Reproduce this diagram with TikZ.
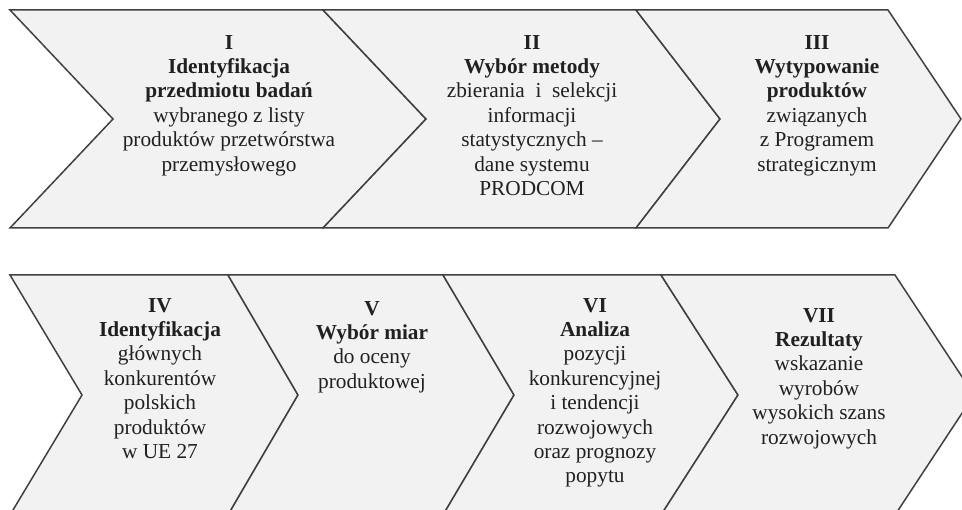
\documentclass[tikz,border=0pt]{standalone}
\usepackage{fontspec}
\setmainfont{Liberation Serif}
\usepackage{tikz}
\usetikzlibrary{positioning}

\definecolor{chevfill}{RGB}{242,242,242}
\definecolor{chevline}{RGB}{64,64,64}
\definecolor{chevtext}{RGB}{32,32,32}
\newcommand{\chevfont}{\fontsize{21.3}{24.4}\selectfont}

\begin{document}
\begin{tikzpicture}
	[x=1pt,y=-1pt,every node/.style={align=center,anchor=north,inner sep=0pt,text=chevtext,font=\chevfont},
	 chev/.style={draw=chevline,fill=chevfill,line width=1.5pt}]
	\useasboundingbox (0,0) rectangle (962,510);
	\clip (0,0) rectangle (962,510);
	
	% upper row
	\foreach \l/\n/\r/\t in {10/113/323/426,323/426/636/720,636/720/888/961}
	\draw[chev] (\l,10) -- (\r,10) -- (\t,119) -- (\r,228) -- (\l,228) -- (\n,119) -- cycle;
	
	% lower row
	\foreach \l/\n/\r/\t in {10/82/228/298,228/298/443/514,443/514/661/738,661/738/895/974}
	\draw[chev] (\l,275) -- (\r,275) -- (\t,395) -- (\r,515) -- (\l,515) -- (\n,395) -- cycle;
	
	\node (s1) at (229,35) {\textbf{I}\\\textbf{Identyfikacja}\\\textbf{przedmiotu badań}\\wybranego z listy\\produktów przetwórstwa\\przemysłowego};
	\node (s2) at (532,35) {\textbf{II}\\\textbf{Wybór metody}\\zbierania\ \ i\ \ selekcji\\informacji\\statystycznych --\\dane systemu\\PRODCOM};
	\node (s3) at (817,35) {\textbf{III}\\\textbf{Wytypowanie}\\\textbf{produktów}\\związanych\\z Programem\\strategicznym};
	\node (s4) at (160,298) {\textbf{IV}\\\textbf{Identyfikacja}\\głównych\\konkurentów\\polskich\\produktów\\w UE 27};
	\node (s5) at (372,301) {\textbf{V}\\\textbf{Wybór miar}\\do oceny\\produktowej};
	\node (s6) at (595,298) {\textbf{VI}\\\textbf{Analiza}\\pozycji\\konkurencyjnej\\i tendencji\\rozwojowych\\oraz prognozy\\popytu};
	\node (s7) at (819,308) {\textbf{VII}\\\textbf{Rezultaty}\\wskazanie\\wyrobów\\wysokich szans\\rozwojowych};
	
\end{tikzpicture}
\end{document}
